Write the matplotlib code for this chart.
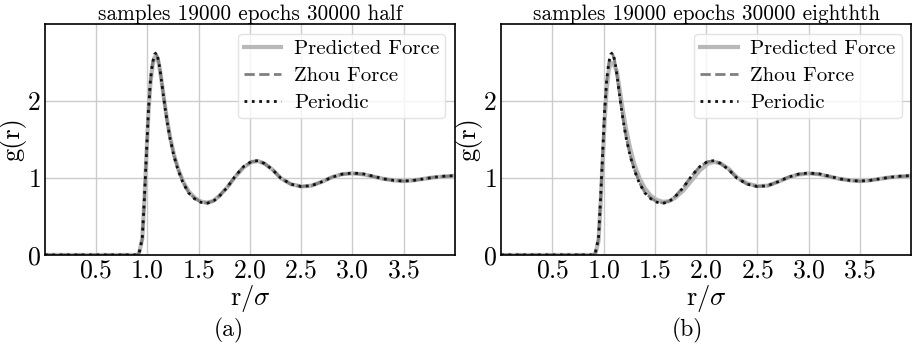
import numpy as np
import matplotlib
matplotlib.use("Agg")
from matplotlib import pyplot as plt

plt.rcParams["font.family"] = ["cmr10", "DejaVu Serif"]
plt.rcParams["mathtext.fontset"] = "cm"
plt.rcParams["axes.formatter.use_mathtext"] = True

# radial distance r/sigma
r = [0.0, 0.85, 0.90, 0.92, 0.95, 0.97, 0.99, 1.01, 1.03, 1.05, 1.07, 1.09,
     1.11, 1.13, 1.16, 1.19, 1.22, 1.26, 1.30, 1.35, 1.40, 1.46, 1.52, 1.58,
     1.64, 1.70, 1.78, 1.86, 1.94, 2.02, 2.08, 2.14, 2.22, 2.30, 2.40, 2.50,
     2.60, 2.70, 2.80, 2.90, 3.00, 3.10, 3.20, 3.30, 3.40, 3.50, 3.60, 3.70,
     3.80, 3.90, 4.00]

g_periodic = [0.0, 0.0, 0.0, 0.03, 0.22, 0.72, 1.30, 1.88, 2.28, 2.50, 2.61, 2.63,
              2.52, 2.34, 2.03, 1.75, 1.52, 1.28, 1.10, 0.93, 0.81, 0.73, 0.685, 0.67,
              0.695, 0.76, 0.88, 1.03, 1.15, 1.22, 1.225, 1.19, 1.11, 1.00, 0.92, 0.89,
              0.90, 0.95, 1.01, 1.05, 1.065, 1.055, 1.025, 0.99, 0.97, 0.96, 0.97, 0.99,
              1.01, 1.025, 1.03]

g_zhou = [0.0, 0.0, 0.0, 0.03, 0.21, 0.70, 1.28, 1.86, 2.26, 2.49, 2.59, 2.60,
          2.51, 2.34, 2.04, 1.76, 1.53, 1.29, 1.11, 0.94, 0.82, 0.74, 0.69, 0.675,
          0.70, 0.765, 0.885, 1.03, 1.15, 1.215, 1.22, 1.19, 1.11, 1.00, 0.92, 0.89,
          0.90, 0.95, 1.01, 1.05, 1.06, 1.05, 1.02, 0.99, 0.97, 0.96, 0.97, 0.99,
          1.01, 1.02, 1.03]

g_pred_half = [0.0, 0.0, 0.0, 0.03, 0.21, 0.70, 1.28, 1.85, 2.24, 2.46, 2.57, 2.58,
               2.50, 2.34, 2.05, 1.77, 1.54, 1.30, 1.12, 0.95, 0.83, 0.745, 0.695, 0.68,
               0.70, 0.765, 0.88, 1.02, 1.14, 1.21, 1.22, 1.19, 1.11, 1.00, 0.92, 0.89,
               0.90, 0.95, 1.01, 1.05, 1.06, 1.05, 1.02, 0.99, 0.97, 0.96, 0.97, 0.99,
               1.01, 1.02, 1.03]

g_pred_eighth = [0.0, 0.0, 0.0, 0.02, 0.18, 0.65, 1.20, 1.75, 2.15, 2.40, 2.50, 2.49,
                 2.45, 2.38, 2.12, 1.86, 1.63, 1.38, 1.18, 1.00, 0.87, 0.77, 0.715, 0.69,
                 0.70, 0.745, 0.84, 0.97, 1.10, 1.19, 1.21, 1.19, 1.12, 1.01, 0.93, 0.895,
                 0.90, 0.95, 1.005, 1.045, 1.06, 1.05, 1.02, 0.99, 0.97, 0.96, 0.97, 0.99,
                 1.01, 1.02, 1.03]

titles = ["samples 19000 epochs 30000 half", "samples 19000 epochs 30000 eighthth"]
captions = ["(a)", "(b)"]
predicted = [g_pred_half, g_pred_eighth]
xticks = [0.5, 1.0, 1.5, 2.0, 2.5, 3.0, 3.5]
yticks = [0, 1, 2]

fig = plt.figure(figsize=(9.17, 3.45), dpi=100)
lefts = [0.049, 0.5465]

for i in range(2):
    ax = fig.add_axes([lefts[i], 0.261, 0.447, 0.669])
    ax.plot(r, predicted[i], color="#b8b8b8", lw=3, label="Predicted Force")
    ax.plot(r, g_zhou, color="#808080", lw=2, ls="--", label="Zhou Force")
    ax.plot(r, g_periodic, color="#111111", lw=2, ls=":", label="Periodic")
    ax.set_xlim(0, 4.0)
    ax.set_ylim(0, 3.0)
    ax.set_xticks(xticks)
    ax.set_yticks(yticks)
    ax.tick_params(length=0, labelsize=18.5, pad=3)
    ax.grid(True, color="#cccccc", lw=1)
    ax.set_axisbelow(True)
    for s in ax.spines.values():
        s.set_color("black")
        s.set_linewidth(1.2)
    ax.set_xlabel(r"r/$\sigma$", fontsize=19)
    ax.xaxis.set_label_coords(0.5, -0.12)
    ax.set_ylabel("g(r)", fontsize=19)
    ax.yaxis.set_label_coords(-0.045, 0.5)
    ax.set_title(titles[i], fontsize=15.3, pad=3)
    ax.legend(loc="upper right", fontsize=15, framealpha=0.8,
              edgecolor="#dddddd", handlelength=1.8, borderpad=0.3,
              labelspacing=0.4, handletextpad=0.6, borderaxespad=0.45)
    fig.text(0.25 + 0.5 * i, 0.043, captions[i], ha="center", va="center",
             fontsize=17)

fig.savefig("out.png", dpi=100)
